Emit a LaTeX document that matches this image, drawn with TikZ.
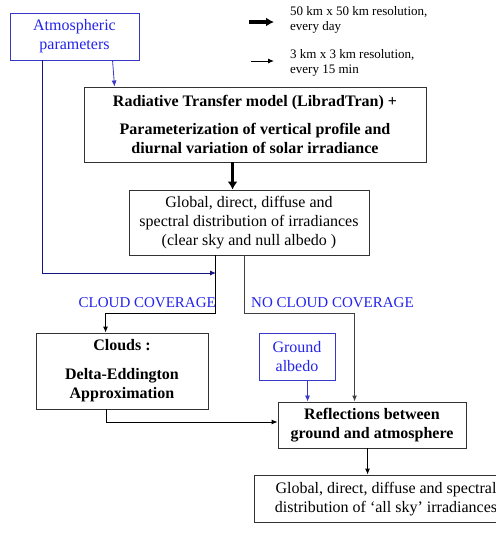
\documentclass[tikz,border=0pt]{standalone}
\usepackage{fontspec}
\setmainfont{Liberation Serif}
\usetikzlibrary{arrows.meta}
\definecolor{tblue}{RGB}{35,35,235}
\definecolor{lblue}{RGB}{55,55,200}
\definecolor{navyb}{RGB}{20,20,130}
\definecolor{bgray}{RGB}{50,50,50}
\begin{document}
\begin{tikzpicture}[x=1pt,y=-1pt,
  txt/.style={font=\fontsize{16}{19}\selectfont},
  btxt/.style={font=\bfseries\fontsize{16}{19}\selectfont},
  box/.style={draw=bgray,line width=0.9pt,inner sep=0pt,align=center,txt},
  bluebox/.style={box,draw=lblue,text=tblue},
  lbl/.style={inner sep=0pt,text=tblue,font=\fontsize{15}{19}\selectfont},
  legtxt/.style={inner sep=0pt,anchor=west,align=left,font=\fontsize{13}{15}\selectfont},
  conn/.style={draw=black,line width=0.9pt,-{Latex[length=6pt,width=5pt]}},
  bconn/.style={draw=lblue,line width=0.8pt,-{Latex[length=6pt,width=5pt]}},
]
\useasboundingbox (0,0) rectangle (496,542);

% legend
\coordinate (l1a) at (249,22);
\coordinate (l1b) at (274,22);
\coordinate (l2a) at (251,61);
\coordinate (l2b) at (274,61);
\draw[line width=3.2pt,-{Latex[length=8pt,width=9pt]}] (l1a) -- (l1b);
\draw[line width=0.9pt,-{Latex[length=6pt,width=5pt]}] (l2a) -- (l2b);
\node[legtxt] (leg1) at (290,20) {50 km x 50 km resolution,\\every day};
\node[legtxt] (leg2) at (290,63) {3 km x 3 km resolution,\\every 15 min};

% boxes
\node[bluebox,minimum width=129pt,minimum height=47pt] (atm) at (74.5,36.5) {Atmospheric\\parameters};
\node[box,btxt,minimum width=342pt,minimum height=75pt] (rad) at (255,124.5)
  {Radiative Transfer model (LibradTran) +\\[9pt]Parameterization of vertical profile and\\diurnal variation of solar irradiance};
\node[box,minimum width=240pt,minimum height=65pt] (glob) at (249,222.5)
  {Global, direct, diffuse and\\spectral distribution of irradiances\\(clear sky and null albedo )};
\node[box,btxt,minimum width=172pt,minimum height=76pt] (cloud) at (122,371)
  {Clouds :\\[10pt]Delta-Eddington\\Approximation};
\node[bluebox,minimum width=76pt,minimum height=47pt] (ground) at (297,356.5) {Ground\\albedo};
\node[box,btxt,minimum width=188pt,minimum height=46pt] (refl) at (372,425)
  {Reflections between\\ground and atmosphere};
\node[box,minimum width=243pt,minimum height=47pt] (final) at (375.5,498.5) {};
\node[txt,align=center,inner sep=0pt] (finaltxt) at (386,499.5)
  {Global, direct, diffuse and spectral\\distribution of ‘all sky’ irradiances};

% labels
\node[lbl,anchor=east] (cc) at (216,303) {CLOUD COVERAGE};
\node[lbl,anchor=west] (ncc) at (251,303) {NO CLOUD COVERAGE};

% connectors
\draw[bconn] ([xshift=103pt]atm.south west) -- ([xshift=31pt]rad.north west);
\coordinate (merge) at (216,273);
\draw[draw=navyb,line width=0.9pt,-{Latex[length=6pt,width=5pt]}] ([xshift=33pt]atm.south west) |- (merge);
\draw[line width=3pt,-{Latex[length=8pt,width=10pt]}] ([xshift=149pt]rad.south west) -- ([xshift=104pt]glob.north west);
\draw[conn] ([xshift=87pt]glob.south west) -- ++(0,58) -| ([xshift=70pt]cloud.north west);
\draw[conn,draw=black!75,line width=1.1pt] ([xshift=116pt]glob.south west) -- ++(0,58) -| ([xshift=77pt]refl.north west);
\draw[bconn] ([xshift=49pt]ground.south west) -- ([xshift=30pt]refl.north west);
\draw[conn] ([xshift=71pt]cloud.south west) |- ([yshift=3pt]refl.west);
\draw[conn] ([xshift=90pt]refl.south west) -- ([xshift=114pt]final.north west);
\end{tikzpicture}
\end{document}
